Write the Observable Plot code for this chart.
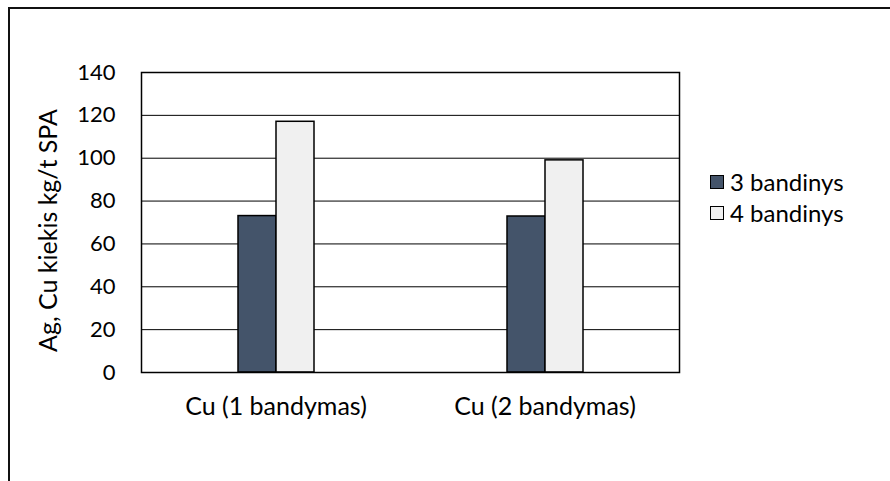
<!DOCTYPE html>
<html>
<head>
<meta charset="utf-8">
<script src="https://cdn.jsdelivr.net/npm/d3@7"></script>
<script src="https://cdn.jsdelivr.net/npm/@observablehq/plot@0.6"></script>
<style>
  html, body { margin: 0; padding: 0; background: #fff; overflow: hidden; }
  #wrap { position: relative; width: 890px; height: 481px; font-family: Lato, "Open Sans", sans-serif; }
  #border { position: absolute; left: 8px; top: 7px; width: 2000px; height: 2000px;
            border-top: 2px solid #111; border-left: 2px solid #111; }
  #chart { position: absolute; left: 0; top: 0; }
  #legend { position: absolute; left: 710px; top: 166px; font-size: 24px; color: #000; }
  .item { display: flex; align-items: center; height: 31px; white-space: nowrap; }
  .sw { width: 12px; height: 12px; border: 1px solid #000; margin-right: 6px; }
</style>
</head>
<body>
<div id="wrap">
  <div id="border"></div>
  <div id="chart"></div>
  <div id="legend"></div>
</div>
<script>
// Copper amount per trial, two samples each
const categories = ["Cu (1 bandymas)", "Cu (2 bandymas)"];
const series = ["3 bandinys", "4 bandinys"];
const values3 = [73, 72.8];
const values4 = [117, 99];
const colors = ["#44546A", "#F0F0F0"];
const yTicks = [0, 20, 40, 60, 80, 100, 120, 140];
const yLabel = "Ag, Cu kiekis kg/t SPA";

const rows = categories.flatMap((c, i) => [
  {category: c, series: series[0], value: values3[i]},
  {category: c, series: series[1], value: values4[i]}
]);

const chart = Plot.plot({
  width: 890,
  height: 481,
  marginLeft: 141,
  marginRight: 211,
  marginTop: 72,
  marginBottom: 109,
  style: {fontFamily: "Lato, 'Open Sans', sans-serif", fontSize: "22px", color: "#000", background: "transparent"},
  fx: {domain: categories, padding: 0, label: null},
  x: {domain: series, paddingInner: 0, paddingOuter: 2.45, axis: null},
  y: {domain: [0, 140], label: null},
  color: {domain: series, range: colors},
  marks: [
    Plot.ruleY(yTicks, {stroke: "#000", strokeWidth: 1}),
    Plot.barY(rows, {fx: "category", x: "series", y: "value", fill: "series", stroke: "#000", strokeWidth: 1.5}),
    Plot.frame({stroke: "#000", strokeWidth: 1.5, facet: "super"}),
    Plot.axisY({ticks: yTicks, tickSize: 0, tickPadding: 26, fontSize: 22, label: null}),
    Plot.axisFx({anchor: "bottom", tickSize: 0, tickPadding: 25, fontSize: 25, label: null}),
    // vertical axis title
    Plot.text([yLabel], {text: d => d, facet: "super", frameAnchor: "left", rotate: -90,
                         textAnchor: "middle", lineAnchor: "bottom", dx: -85, dy: 8,
                         fontSize: 25, fill: "#000"})
  ]
});
document.getElementById("chart").append(chart);

// Legend
const legend = document.getElementById("legend");
series.forEach((s, i) => {
  const item = document.createElement("div");
  item.className = "item";
  const sw = document.createElement("div");
  sw.className = "sw";
  sw.style.background = colors[i];
  const label = document.createElement("span");
  label.textContent = s;
  item.append(sw, label);
  legend.append(item);
});
</script>
</body>
</html>
